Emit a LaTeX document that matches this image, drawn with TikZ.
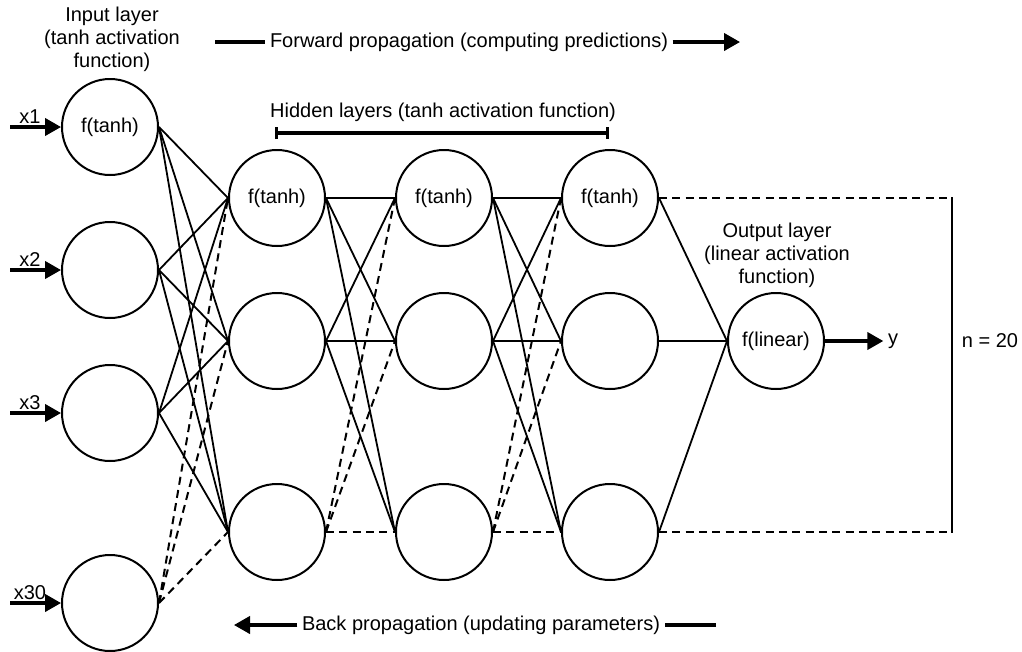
\documentclass[tikz,border=0pt]{standalone}
\usepackage{fontspec}
\setmainfont{Liberation Sans}
\usetikzlibrary{arrows.meta}

\begin{document}
\begin{tikzpicture}[x=0.75pt,y=-0.75pt,font=\fontsize{15}{17.25}\selectfont,
    >={Triangle[length=12pt,width=13pt]}]
  \tikzset{
    neuron/.style={draw,circle,line width=1.5pt,minimum size=72pt,inner sep=0pt},
    link/.style={line width=1.35pt},
    droplink/.style={line width=1.5pt,dash pattern=on 6pt off 4pt},
    flow/.style={line width=2.3pt}
  }
  \useasboundingbox (0,0) rectangle (1022,651);

  % input layer
  \foreach \name/\ypos/\lbl in {in1/127/x1,in2/270/x2,in3/413/x3,in30/603/x30}{
    \node[neuron] (\name) at (110,\ypos) {\ifnum\ypos=127 f(tanh)\fi};
    \coordinate (\name src) at (10,\ypos);
    \draw[flow,->] (\name src) -- (\name);
    \node[anchor=south,inner sep=2.5pt] (\name lab) at (30,\ypos) {\lbl};
  }

  % hidden layers
  \foreach \col/\xpos in {1/277,2/444,3/610}{
    \foreach \row/\ypos in {1/198,2/341,3/532}{
      \node[neuron] (h\col\row) at (\xpos,\ypos) {\ifnum\row=1 f(tanh)\fi};
    }
  }

  % output layer
  \node[neuron] (out) at (776,341) {f(linear)};
  \node (yout) at (893,341) {y};
  \draw[flow,->] (out) -- (yout);

  % input -> first hidden layer
  \foreach \src in {in1,in2,in3}{
    \foreach \t in {1,2,3}{
      \draw[link] (\src.east) -- (h1\t.west);
    }
  }
  \foreach \t in {1,2,3}{
    \draw[droplink] (in30.east) -- (h1\t.west);
  }

  % hidden -> hidden
  \foreach \col/\next in {1/2,2/3}{
    \foreach \t in {1,2,3}{
      \draw[link] (h\col1.east) -- (h\next\t.west);
      \draw[link] (h\col2.east) -- (h\next\t.west);
      \draw[droplink] (h\col3.east) -- (h\next\t.west);
    }
  }

  % last hidden -> output
  \foreach \s in {1,2,3}{
    \draw[link] (h3\s.east) -- (out.west);
  }

  % repeat bracket
  \coordinate (brtop) at (952,198);
  \coordinate (brbot) at (952,532);
  \draw[droplink,line width=1.9pt] (h31.east) -- (brtop);
  \draw[droplink,line width=1.9pt] (h33.east) -- (brbot);
  \draw[flow,line width=2pt,line cap=rect] (brtop) -- (brbot);
  \node (nlab) at (990,341) {n = 20};

  % captions
  \node[align=center] (inlab) at (112,39) {Input layer\\(tanh activation\\function)};
  \node[align=center] (outlab) at (777,255) {Output layer\\(linear activation\\function)};

  \node (fwd) at (469,42) {Forward propagation (computing predictions)};
  \coordinate (fwdstart) at (215,42);
  \coordinate (fwdend) at (740,42);
  \draw[flow] (fwdstart) -- (fwd.west);
  \draw[flow,->] (fwd.east) -- (fwdend);

  \node (hidlab) at (443,112) {Hidden layers (tanh activation function)};
  \coordinate (hidleft) at (275,133);
  \coordinate (hidright) at (609,133);
  \draw[flow,{Bar[width=9pt]}-{Bar[width=9pt]}] (hidleft) -- (hidright);

  \node (back) at (481,625) {Back propagation (updating parameters)};
  \coordinate (backend) at (234,625);
  \coordinate (backstart) at (716,625);
  \draw[flow] (backstart) -- (back.east);
  \draw[flow,->] (back.west) -- (backend);

\end{tikzpicture}
\end{document}
